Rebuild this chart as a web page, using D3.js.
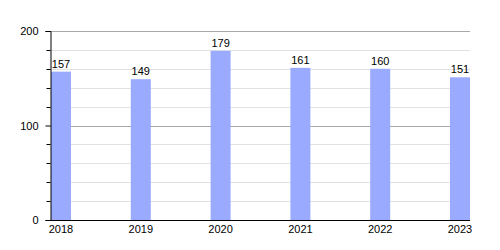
<!DOCTYPE html>
<head>
  <meta charset="utf-8">
  <script src="https://d3js.org/d3.v7.min.js"></script>
  <style>
    body { margin:0; background:#fff; }
    text { font-family: "Liberation Sans", Arial, sans-serif; font-size: 11px; fill: #000; }
  </style>
</head>
<body>
<script>

/* Data */
var years = ['2018', '2019', '2020', '2021', '2022', '2023'];
var counts = [157, 149, 179, 161, 160, 151];
var majorTicks = [0, 100, 200];
var minorTicks = [20, 40, 60, 80, 120, 140, 160, 180];

/* Set up */
var width = 500,
    height = 250,
    margin = { top: 31, right: 30, bottom: 30, left: 50 },
    barW = 20;

var svg = d3.select('body')
  .append('svg')
    .attr('width', width)
    .attr('height', height);

var x0 = margin.left, x1 = width - margin.right;

// bar left edges, first at the axis, last flush with the right end
var x = d3.scalePoint()
    .domain(years)
    .range([x0 + 1, x1 - barW]);

var y = d3.scaleLinear()
    .domain([0, 200])
    .range([height - margin.bottom, margin.top]);

// grid lines
svg.append('g').selectAll('line')
    .data(minorTicks)
    .enter()
  .append('line')
    .attr('x1', x0).attr('x2', x1)
    .attr('y1', function(d) { return Math.round(y(d)) + 0.5; })
    .attr('y2', function(d) { return Math.round(y(d)) + 0.5; })
    .attr('stroke', '#e2e2e2');

svg.append('g').selectAll('line')
    .data(majorTicks.filter(function(d) { return d > 0; }))
    .enter()
  .append('line')
    .attr('x1', x0).attr('x2', x1)
    .attr('y1', function(d) { return Math.round(y(d)) + 0.5; })
    .attr('y2', function(d) { return Math.round(y(d)) + 0.5; })
    .attr('stroke', '#a8a8a8');

// bars
svg.append('g').selectAll('rect')
    .data(counts)
    .enter()
  .append('rect')
    .attr('x', function(d, i) { return x(years[i]); })
    .attr('width', barW)
    .attr('y', function(d) { return y(d); })
    .attr('height', function(d) { return y(0) - y(d); })
    .attr('fill', '#99aaff');

// value labels
svg.append('g').selectAll('text')
    .data(counts)
    .enter()
  .append('text')
    .attr('x', function(d, i) { return x(years[i]) + barW / 2; })
    .attr('y', function(d) { return y(d) - 4; })
    .attr('text-anchor', 'middle')
    .text(function(d) { return d; });

// y axis
var yAxis = d3.axisLeft(y)
    .tickValues(majorTicks)
    .tickSize(5)
    .tickPadding(7);

var gy = svg.append('g')
    .attr('transform', 'translate(' + (x0 + 0.5) + ',0)')
    .call(yAxis);
gy.selectAll('text').style('font-size', '11px').attr('fill', '#000');
gy.select('.domain').attr('stroke', '#000');
gy.selectAll('.tick line').attr('stroke', '#000');

gy.selectAll('.minor')
    .data(minorTicks)
    .enter()
  .append('line')
    .attr('class', 'minor')
    .attr('x1', -4).attr('x2', 0)
    .attr('y1', function(d) { return Math.round(y(d)) + 0.5; })
    .attr('y2', function(d) { return Math.round(y(d)) + 0.5; })
    .attr('stroke', '#000');

// x axis
svg.append('line')
    .attr('x1', x0).attr('x2', x1)
    .attr('y1', y(0) + 0.5).attr('y2', y(0) + 0.5)
    .attr('stroke', '#000');

svg.append('g').selectAll('text')
    .data(years)
    .enter()
  .append('text')
    .attr('x', function(d) { return x(d) + barW / 2; })
    .attr('y', y(0) + 13)
    .attr('text-anchor', 'middle')
    .text(function(d) { return d; });

</script>
</body>
